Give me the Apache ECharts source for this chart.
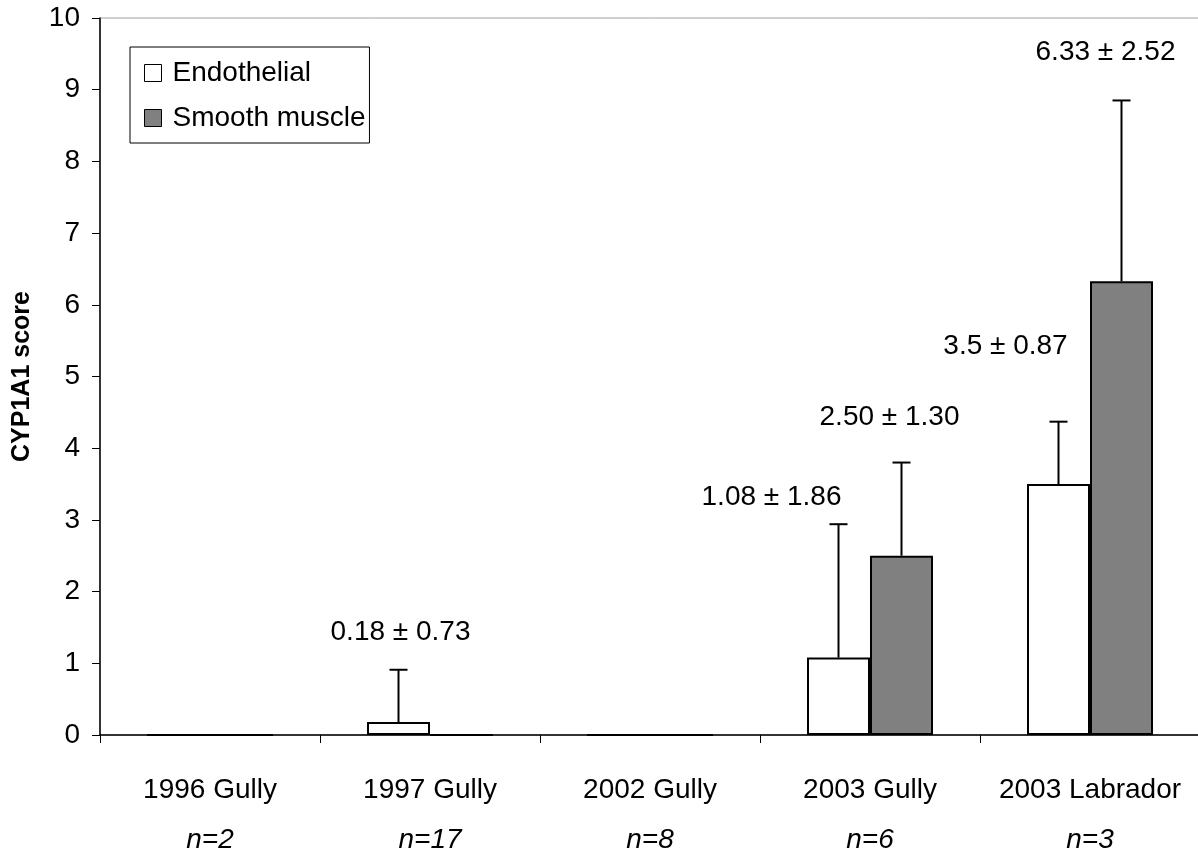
<!DOCTYPE html>
<html><head><meta charset="utf-8">
<script src="https://cdn.jsdelivr.net/npm/echarts@6/dist/echarts.min.js"></script>
<style>html,body{margin:0;padding:0;background:#fff}#c{width:1198px;height:867px}</style>
</head><body><div id="c"></div>
<script>
const categories = ['1996 Gully', '1997 Gully', '2002 Gully', '2003 Gully', '2003 Labrador'];
const sampleSizes = ['n=2', 'n=17', 'n=8', 'n=6', 'n=3'];
const endothelial = [0, 0.18, 0, 1.08, 3.5];
const endothelialSD = [0, 0.73, 0, 1.86, 0.87];
const smoothMuscle = [0, 0, 0, 2.50, 6.33];
const smoothMuscleSD = [0, 0, 0, 1.30, 2.52];
const seriesNames = ['Endothelial', 'Smooth muscle'];
const yMin = 0, yMax = 10, yStep = 1;
// annotation: which series / category it belongs to, and its text
const annotationSeries = [0, 0, 1, 0, 1];
const annotationCats = [1, 3, 3, 4, 4];
const annotationTexts = ['0.18 ± 0.73', '1.08 ± 1.86', '2.50 ± 1.30', '3.5 ± 0.87', '6.33 ± 2.52'];

// ---- layout (not data) ----
const annotationOffsets = [[2, -37], [-67, -27], [-12, -45], [-53, -75], [-16, -48]];
const BAR_W = 63;
const FONT = '"Liberation Sans", Arial, sans-serif';
const FS = 28;

const valuesBySeries = [endothelial, smoothMuscle];
const sdBySeries = [endothelialSD, smoothMuscleSD];
const offsets = [-BAR_W / 2, BAR_W / 2];

function errorSeries(k) {
  return {
    type: 'custom', silent: true, z: 4,
    data: valuesBySeries[k].map((v, i) => [i, v, sdBySeries[k][i]]),
    renderItem(params, api) {
      const i = api.value(0), v = api.value(1), sd = api.value(2);
      if (!sd) return null;
      const p0 = api.coord([i, v]), p1 = api.coord([i, v + sd]);
      const x = p0[0] + offsets[k];
      return {
        type: 'group', children: [
          { type: 'line', shape: { x1: x, y1: p0[1], x2: x, y2: p1[1] }, style: { stroke: '#000', lineWidth: 2 } },
          { type: 'line', shape: { x1: x - 9, y1: p1[1], x2: x + 9, y2: p1[1] }, style: { stroke: '#000', lineWidth: 2 } }
        ]
      };
    }
  };
}

const annotationData = annotationTexts.map((t, j) => {
  const k = annotationSeries[j], c = annotationCats[j];
  return [c, valuesBySeries[k][c] + sdBySeries[k][c], j];
});

const chart = echarts.init(document.getElementById('c'));
chart.setOption({
  animation: false,
  backgroundColor: '#fff',
  textStyle: { fontFamily: FONT },
  grid: { left: 100, top: 18, width: 1100, height: 717, outerBoundsMode: 'none', containLabel: false,
          show: true, borderColor: '#a0a0a0', borderWidth: 1, backgroundColor: 'transparent' },
  legend: {
    data: seriesNames,
    orient: 'vertical', left: 130, top: 47,
    padding: [12, 4, 11, 14], itemGap: 17,
    itemWidth: 17, itemHeight: 17, itemTextGap: 11, icon: 'rect',
    borderColor: '#000', borderWidth: 1,
    textStyle: { fontSize: FS, color: '#000', fontFamily: FONT, padding: [0, 0, 0, 6] },
    itemStyle: { borderColor: '#000', borderWidth: 1 }
  },
  xAxis: {
    type: 'category', data: categories,
    axisLine: { lineStyle: { color: '#000', width: 1.5 } },
    axisTick: { show: true, length: 8, lineStyle: { color: '#000', width: 1 } },
    axisLabel: {
      margin: 30, interval: 0,
      formatter: (val, idx) => '{a|' + val + '}\n{b|' + sampleSizes[idx] + '}',
      rich: {
        a: { fontSize: FS, lineHeight: 50, color: '#000', fontFamily: FONT },
        b: { fontSize: FS, lineHeight: 50, color: '#000', fontStyle: 'italic', fontFamily: FONT }
      }
    }
  },
  yAxis: {
    type: 'value', min: yMin, max: yMax, interval: yStep,
    name: 'CYP1A1 score', nameLocation: 'middle', nameGap: 65, nameMoveOverlap: false,
    nameTextStyle: { fontSize: 25, fontWeight: 'bold', color: '#000', fontFamily: FONT },
    axisLine: { show: true, lineStyle: { color: '#000', width: 1.5 } },
    axisTick: { show: true, length: 8, lineStyle: { color: '#000', width: 1 } },
    axisLabel: { fontSize: FS, color: '#000', margin: 20, fontFamily: FONT },
    splitLine: { show: false }
  },
  series: [
    {
      name: seriesNames[0], type: 'bar', data: endothelial, barWidth: BAR_W, barGap: '0%', z: 3,
      itemStyle: { color: '#ffffff', borderColor: '#000', borderWidth: 2 }
    },
    {
      name: seriesNames[1], type: 'bar', data: smoothMuscle, barWidth: BAR_W, barGap: '0%', z: 3,
      itemStyle: { color: '#808080', borderColor: '#000', borderWidth: 2 }
    },
    errorSeries(0),
    errorSeries(1),
    {
      type: 'custom', silent: true, z: 5,
      data: annotationData,
      renderItem(params, api) {
        const c = api.value(0), top = api.value(1), j = api.value(2);
        const p = api.coord([c, top]);
        const k = annotationSeries[j];
        return {
          type: 'text',
          style: {
            x: p[0] + offsets[k] + annotationOffsets[j][0],
            y: p[1] + annotationOffsets[j][1],
            text: annotationTexts[j], fill: '#000',
            font: FS + 'px ' + FONT, align: 'center', verticalAlign: 'middle'
          }
        };
      }
    }
  ]
});
</script></body></html>
